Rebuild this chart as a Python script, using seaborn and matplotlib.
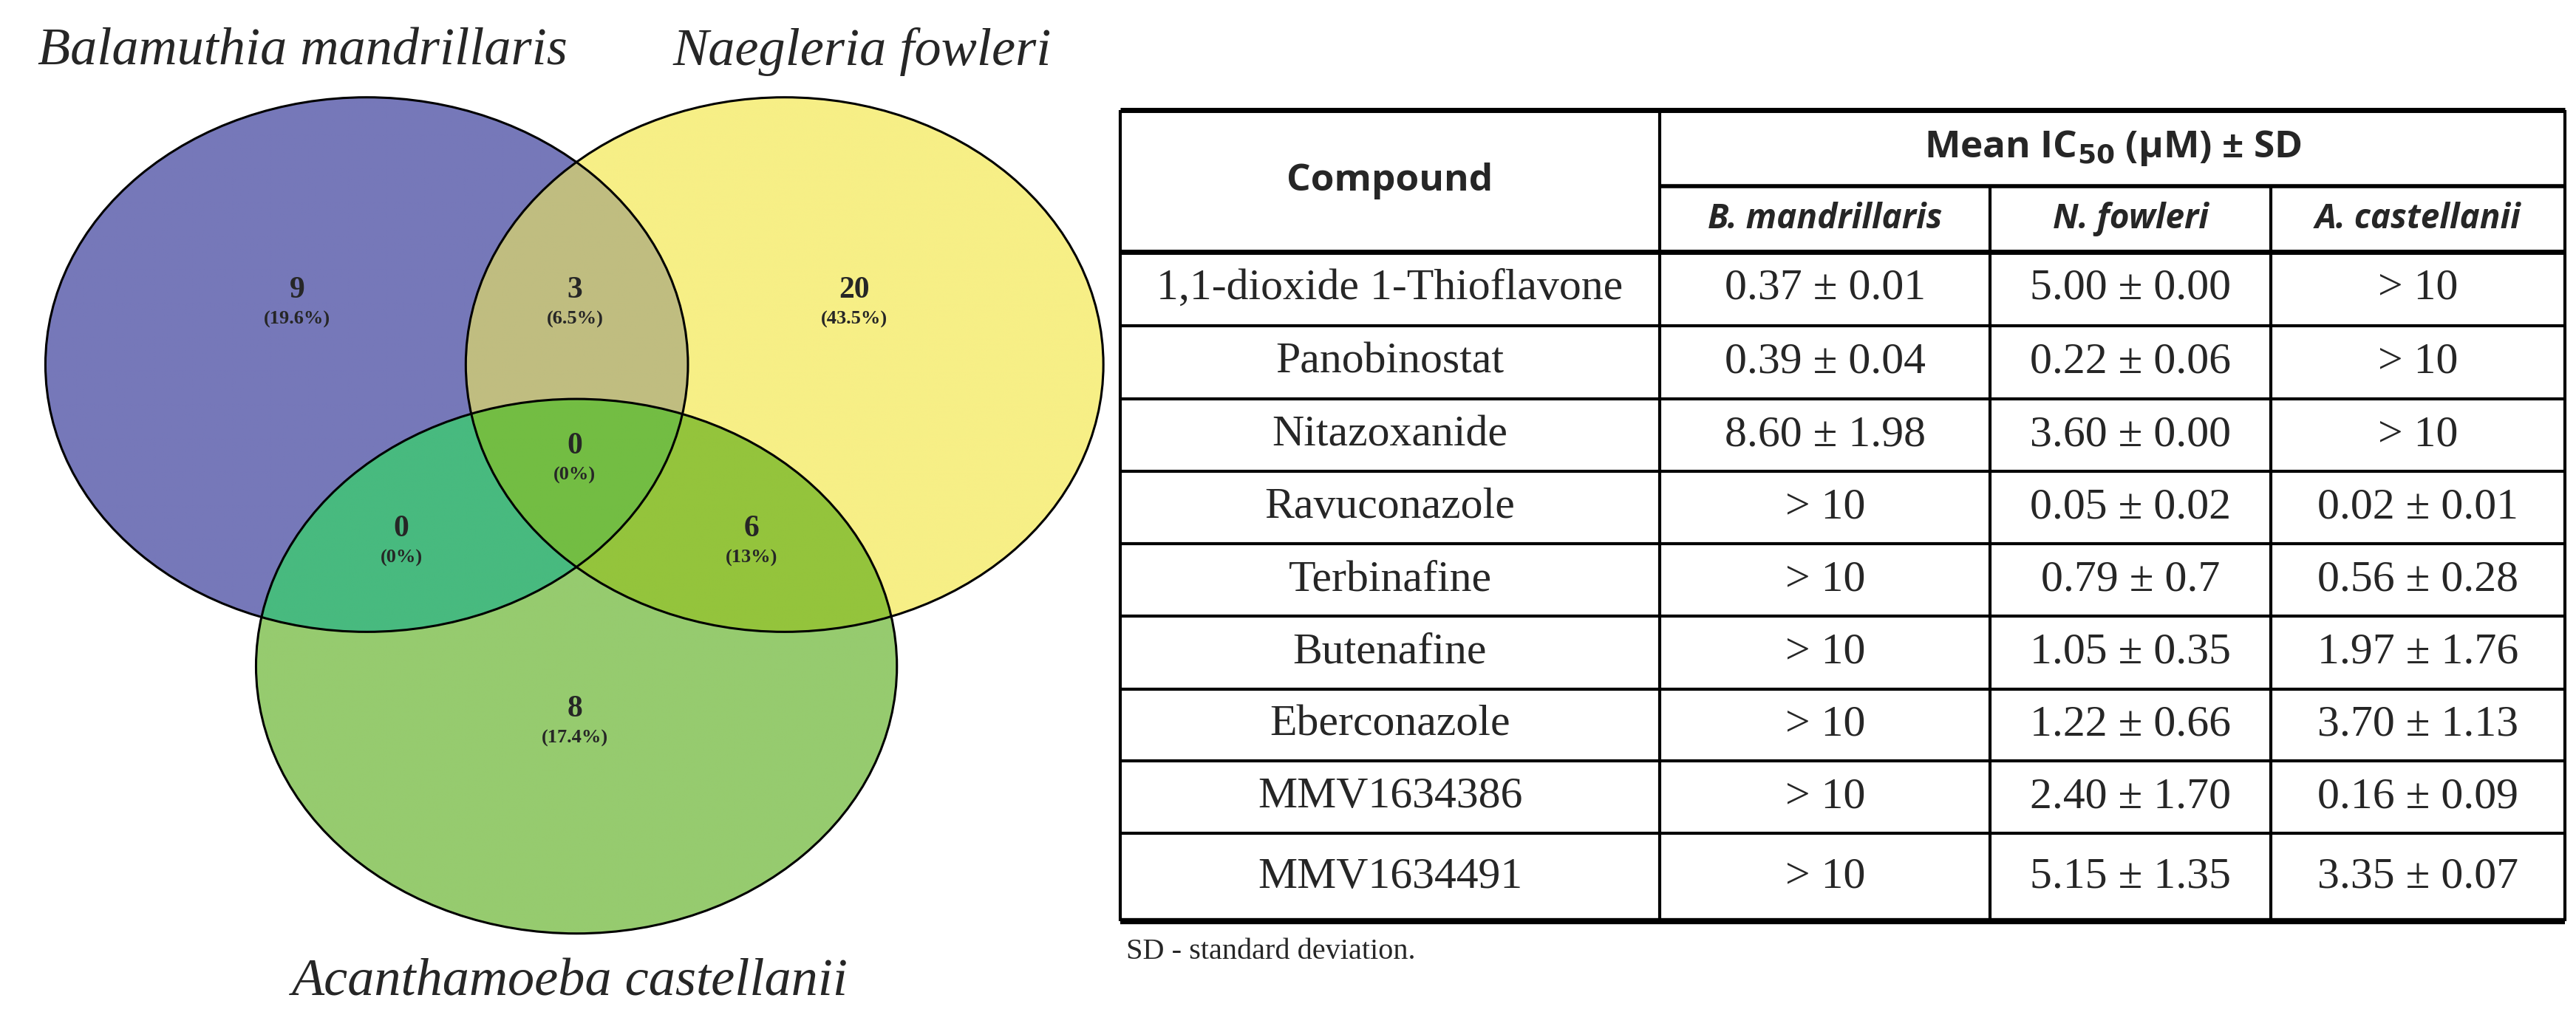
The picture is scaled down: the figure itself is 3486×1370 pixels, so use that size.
import numpy as np
import matplotlib
matplotlib.use("Agg")
import matplotlib.pyplot as plt
from matplotlib.patches import Ellipse
import seaborn as sns

sns.set_theme(style="white")

# ---- data ----
set_names = ["Balamuthia mandrillaris", "Naegleria fowleri", "Acanthamoeba castellanii"]
region_keys = ["B", "BN", "N", "BNA", "BA", "NA", "A"]
region_counts = [9, 3, 20, 0, 0, 6, 8]
region_pcts = ["(19.6%)", "(6.5%)", "(43.5%)", "(0%)", "(0%)", "(13%)", "(17.4%)"]

compounds = ["1,1-dioxide 1-Thioflavone", "Panobinostat", "Nitazoxanide", "Ravuconazole",
             "Terbinafine", "Butenafine", "Eberconazole", "MMV1634386", "MMV1634491"]
b_mandrillaris = ["0.37 ± 0.01", "0.39 ± 0.04", "8.60 ± 1.98", "> 10", "> 10", "> 10", "> 10", "> 10", "> 10"]
n_fowleri = ["5.00 ± 0.00", "0.22 ± 0.06", "3.60 ± 0.00", "0.05 ± 0.02", "0.79 ± 0.7",
             "1.05 ± 0.35", "1.22 ± 0.66", "2.40 ± 1.70", "5.15 ± 1.35"]
a_castellanii = ["> 10", "> 10", "> 10", "0.02 ± 0.01", "0.56 ± 0.28", "1.97 ± 1.76",
                 "3.70 ± 1.13", "0.16 ± 0.09", "3.35 ± 0.07"]
col_heads = ["B. mandrillaris", "N. fowleri", "A. castellanii"]

# ---- figure ----
fig = plt.figure(figsize=(34.87, 13.70), dpi=100)
ax = fig.add_axes([0, 0, 1, 1])
ax.set_xlim(0, 1)
ax.set_ylim(1, 0)
ax.axis("off")

S = 1560.0
ells = {"B": (222 / S, 562 / S, 194.5 / S, 412 / S),
        "N": (475 / S, 562 / S, 193 / S, 412 / S),
        "A": (349 / S, 1027 / S, 194 / S, 412 / S)}

colors = {"B": "#7678b9", "N": "#f7ef86", "A": "#96cb6f",
          "BN": "#c0bd80", "BA": "#48ba7f", "NA": "#94c43c", "BNA": "#73bd43"}

x0, x1, y0, y1 = 0.0, 0.45, 0.0, 1.0
nx, ny = 1600, 1400
xs = np.linspace(x0, x1, nx)
ys = np.linspace(y0, y1, ny)
X, Y = np.meshgrid(xs, ys)
inside = {}
for k, (cx, cy, a, b) in ells.items():
    inside[k] = ((X - cx) / a) ** 2 + ((Y - cy) / b) ** 2 <= 1
img = np.ones((ny, nx, 4))
img[..., 3] = 0
for key in ["B", "N", "A", "BN", "BA", "NA", "BNA"]:
    m = np.ones_like(X, dtype=bool)
    for ch in "BNA":
        m &= inside[ch] if ch in key else ~inside[ch]
    rgb = matplotlib.colors.to_rgb(colors[key])
    img[m, :3] = rgb
    img[m, 3] = 1
ax.imshow(img, extent=(x0, x1, y1, y0), aspect="auto", interpolation="bilinear", zorder=1)
for k, (cx, cy, a, b) in ells.items():
    ax.add_patch(Ellipse((cx, cy), 2 * a, 2 * b, fill=False, ec="black", lw=2.2, zorder=2))

pos = {"B": (180, 447), "BN": (348, 447), "N": (517, 447), "BNA": (348, 688),
       "BA": (243, 815), "NA": (455, 815), "A": (348, 1093)}
for key, c, p in zip(region_keys, region_counts, region_pcts):
    px, py = pos[key]
    ax.text(px / S, py / S, str(c), ha="center", va="center", family="Liberation Serif",
            fontweight="bold", fontsize=30, zorder=3)
    ax.text(px / S, (py + 45) / S, p, ha="center", va="center", family="Liberation Serif",
            fontweight="bold", fontsize=19, zorder=3)

name_pos = [(183, 80), (522, 80), (345, 1515)]
for n, (px, py) in zip(set_names, name_pos):
    ax.text(px / S, py / S, n, ha="center", va="center", family="Liberation Serif",
            style="italic", fontsize=52)

# ---- table ----
cx_b = [678, 1005, 1205, 1375, 1553]
ry = [388, 502, 615, 727, 838, 950, 1062, 1173, 1285, 1420]
top, mid = 170, 287
L = lambda v: v / S

def hline(y, xa, xb, lw):
    ax.plot([L(xa), L(xb)], [L(y), L(y)], color="black", lw=lw, solid_capstyle="butt")

def vline(x, ya, yb, lw):
    ax.plot([L(x), L(x)], [L(ya), L(yb)], color="black", lw=lw, solid_capstyle="butt")

hline(top, cx_b[0], cx_b[-1], 5)
hline(mid, cx_b[1], cx_b[-1], 4)
hline(ry[0], cx_b[0], cx_b[-1], 5)
for y in ry[1:-1]:
    hline(y, cx_b[0], cx_b[-1], 3)
hline(ry[-1], cx_b[0], cx_b[-1], 6)
vline(cx_b[0], top, ry[-1], 3)
vline(cx_b[-1], top, ry[-1], 3)
vline(cx_b[1], top, ry[-1], 3)
for x in cx_b[2:4]:
    vline(x, mid, ry[-1], 3)

hfont = "Open Sans"
ax.text(L((cx_b[0] + cx_b[1]) / 2), L((top + ry[0]) / 2), "Compound", ha="center", va="center",
        family=hfont, fontweight="bold", fontsize=37)
ax.text(L((cx_b[1] + cx_b[-1]) / 2), L((top + mid) / 2), r"Mean IC$_{\mathbf{50}}$ (µM) ± SD",
        ha="center", va="center", family=hfont, fontweight="bold", fontsize=37)
for i, h in enumerate(col_heads):
    ax.text(L((cx_b[i + 1] + cx_b[i + 2]) / 2), L((mid + ry[0]) / 2), h, ha="center", va="center",
            family=hfont, fontweight="bold", style="italic", fontsize=33)

cols = [compounds, b_mandrillaris, n_fowleri, a_castellanii]
for r in range(len(compounds)):
    yc = (ry[r] + ry[r + 1]) / 2
    for c in range(4):
        ax.text(L((cx_b[c] + cx_b[c + 1]) / 2), L(yc), cols[c][r], ha="center", va="center",
                family="Liberation Serif", fontsize=43)

ax.text(L(682), L(1467), "SD - standard deviation.", ha="left", va="center",
        family="Liberation Serif", fontsize=29)

fig.savefig("out.png", dpi=100)
